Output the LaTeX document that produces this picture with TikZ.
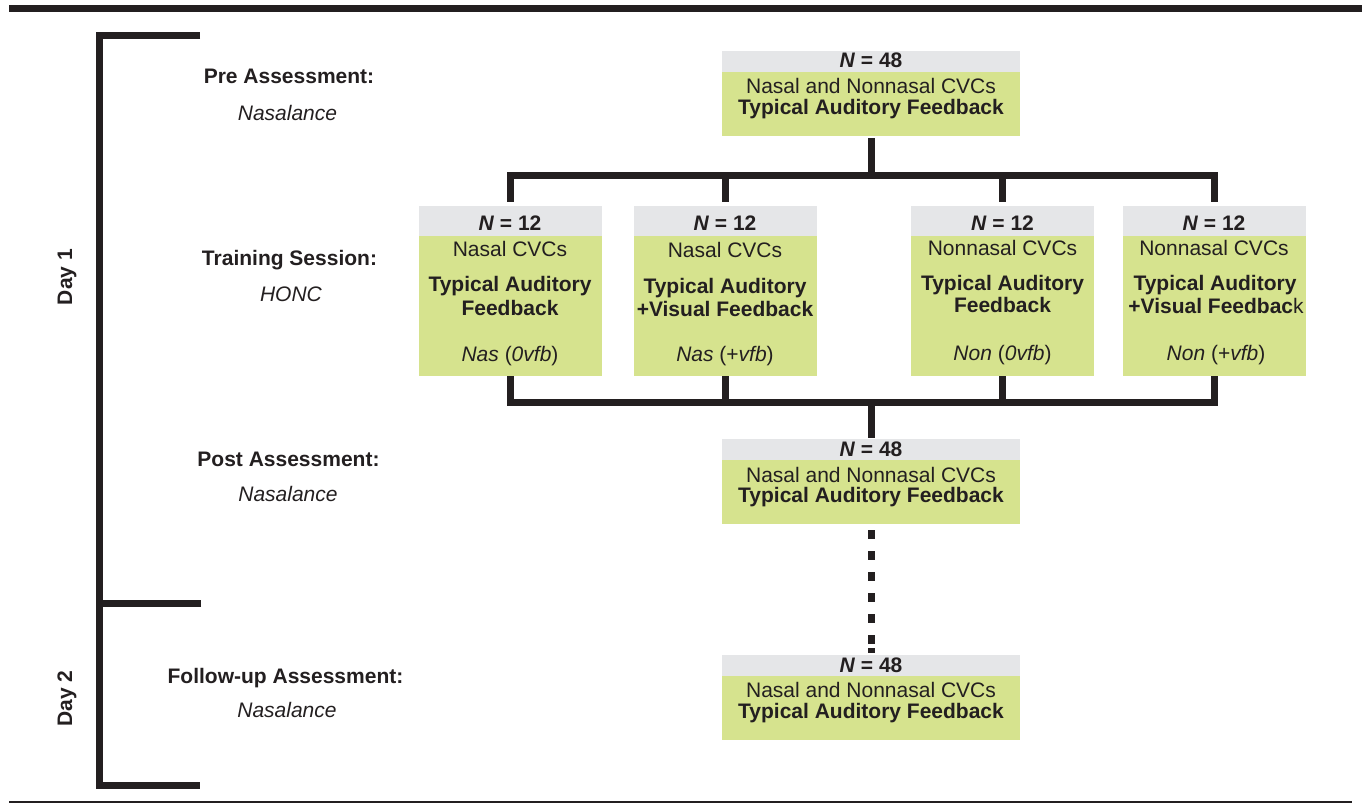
\documentclass[tikz,border=0pt]{standalone}
\usepackage{fontspec}
\setmainfont{Liberation Sans}
\definecolor{ink}{HTML}{231F20}
\definecolor{hdr}{HTML}{E5E6E8}
\definecolor{grn}{HTML}{D6E38E}
\begin{document}
\begin{tikzpicture}[x=1pt,y=-1pt,
  every node/.style={text=ink},
  font=\fontsize{21}{23}\selectfont,
  hdrbox/.style={fill=hdr, draw=none, inner sep=0pt},
  grnbox/.style={fill=grn, draw=none, inner sep=0pt},
  bigw/.style={minimum width=298pt},
  smallw/.style={minimum width=183pt},
  txt/.style={anchor=base, inner sep=0pt},
  conn/.style={draw=ink, line width=7pt, line join=miter},
  dashconn/.style={conn, dash pattern=on 9pt off 12pt on 9pt off 12pt on 9pt off 12pt on 9pt off 12pt on 9pt off 12pt on 9pt off 4pt on 6pt off 30pt},
  daylabel/.style={anchor=base, rotate=90, inner sep=0pt, font=\fontsize{21}{23}\selectfont\bfseries},
  rulethick/.style={draw=ink, line width=7pt},
  rulethin/.style={draw=ink, line width=2.5pt}]
\useasboundingbox (0,0) rectangle (1362,803);

% rules
\coordinate (tr1) at (9,8.5);
\coordinate (tr2) at (1362,8.5);
\coordinate (br1) at (9,802);
\coordinate (br2) at (1352,802);
\draw[rulethick] (tr1) -- (tr2);
\draw[rulethin] (br1) -- (br2);

% day bracket
\coordinate (b1) at (200,35);
\coordinate (bc) at (99.5,785);
\coordinate (b2) at (200,785);
\coordinate (bm) at (201,603);
\draw[conn] (b1) -| (bc) -- (b2);
\draw[conn] (bm) -- (bm -| bc);
\node[daylabel] (day1) at (72,277) {Day 1};
\node[daylabel] (day2) at (72,698.5) {Day 2};

% left labels
\node[txt] (lpre) at (289,83.3) {\textbf{Pre Assessment:}};
\node[txt] (lpren) at (287.5,120) {\textit{Nasalance}};
\node[txt] (ltr) at (289.5,265) {\textbf{Training Session:}};
\node[txt] (ltrn) at (291,301.7) {\textit{HONC}};
\node[txt] (lpost) at (288.5,466) {\textbf{Post Assessment:}};
\node[txt] (lpostn) at (288,501) {\textit{Nasalance}};
\node[txt] (lfol) at (285.5,683) {\textbf{Follow-up Assessment:}};
\node[txt] (lfoln) at (287,717) {\textit{Nasalance}};

% pre box
\node[hdrbox, bigw, minimum height=21pt] (preh) at (871,61.5) {};
\node[grnbox, bigw, minimum height=64pt] (pre) at (871,104) {};
\node[txt] (pre1) at (871,67.5) {\textbf{\textit{N} = 48}};
\node[txt] (pre2) at (871,93) {Nasal and Nonnasal CVCs};
\node[txt] (pre3) at (871,114) {\textbf{Typical Auditory Feedback}};

% post box
\node[hdrbox, bigw, minimum height=21pt] (posth) at (871,449.5) {};
\node[grnbox, bigw, minimum height=64pt] (post) at (871,492) {};
\node[txt] (post1) at (871,456.5) {\textbf{\textit{N} = 48}};
\node[txt] (post2) at (871,482.5) {Nasal and Nonnasal CVCs};
\node[txt] (post3) at (871,502) {\textbf{Typical Auditory Feedback}};

% follow-up box
\node[hdrbox, bigw, minimum height=21pt] (folh) at (871,665.5) {};
\node[grnbox, bigw, minimum height=64pt] (fol) at (871,708) {};
\node[txt] (fol1) at (871,672) {\textbf{\textit{N} = 48}};
\node[txt] (fol2) at (871,697) {Nasal and Nonnasal CVCs};
\node[txt] (fol3) at (871,718) {\textbf{Typical Auditory Feedback}};

% training boxes
\node[hdrbox, smallw, minimum height=30pt] (t1h) at (510,221) {};
\node[grnbox, smallw, minimum height=140pt] (t1) at (510,306) {};
\node[hdrbox, smallw, minimum height=30pt] (t2h) at (725,221) {};
\node[grnbox, smallw, minimum height=140pt] (t2) at (725,306) {};
\node[hdrbox, smallw, minimum height=30pt] (t3h) at (1002.5,221) {};
\node[grnbox, smallw, minimum height=140pt] (t3) at (1002.5,306) {};
\node[hdrbox, smallw, minimum height=30pt] (t4h) at (1214,221) {};
\node[grnbox, smallw, minimum height=140pt] (t4) at (1214,306) {};

\node[txt] (t1a) at (510,230.7) {\textbf{\textit{N} = 12}};
\node[txt] (t1b) at (510,256.7) {Nasal CVCs};
\node[txt] (t1c) at (510,291.5) {\textbf{Typical Auditory}};
\node[txt] (t1d) at (510,315) {\textbf{Feedback}};
\node[txt] (t1e) at (510,361.5) {\textit{Nas} (\textit{0vfb})};

\node[txt] (t2a) at (725,230.7) {\textbf{\textit{N} = 12}};
\node[txt] (t2b) at (725,257) {Nasal CVCs};
\node[txt] (t2c) at (725,293.5) {\textbf{Typical Auditory}};
\node[txt] (t2d) at (725,316.5) {\textbf{+Visual Feedback}};
\node[txt] (t2e) at (725,361.5) {\textit{Nas} (+\textit{vfb})};

\node[txt] (t3a) at (1002.5,230.7) {\textbf{\textit{N} = 12}};
\node[txt] (t3b) at (1002.5,255.7) {Nonnasal CVCs};
\node[txt] (t3c) at (1002.5,290) {\textbf{Typical Auditory}};
\node[txt] (t3d) at (1002.5,312.5) {\textbf{Feedback}};
\node[txt] (t3e) at (1002.5,360) {\textit{Non} (\textit{0vfb})};

\node[txt] (t4a) at (1214,230.7) {\textbf{\textit{N} = 12}};
\node[txt] (t4b) at (1214,255.7) {Nonnasal CVCs};
\node[txt] (t4c) at (1215,290) {\textbf{Typical Auditory}};
\node[txt] (t4d) at (1216,313) {\textbf{+Visual Feedbac}k};
\node[txt] (t4e) at (1216,360) {\textit{Non} (+\textit{vfb})};

% connectors
\coordinate (tb) at (871,175.5);
\coordinate (bb) at (871,402);
\draw[conn] ([yshift=-2pt]pre.south) -- (tb);
\draw[conn] ([yshift=4pt]t1h.north) |- (tb) -| ([yshift=4pt]t4h.north);
\draw[conn] ([yshift=4pt]t2h.north) -- (t2h.north |- tb);
\draw[conn] ([yshift=4pt]t3h.north) -- (t3h.north |- tb);
\draw[conn] (t1.south) |- (bb) -| (t4.south);
\draw[conn] (t2.south) -- (t2.south |- bb);
\draw[conn] (t3.south) -- (t3.south |- bb);
\draw[conn] (bb) -- ([yshift=1pt]posth.north);
\draw[dashconn] ([yshift=-6pt]post.south) -- ([yshift=2pt]folh.north);
\end{tikzpicture}
\end{document}
